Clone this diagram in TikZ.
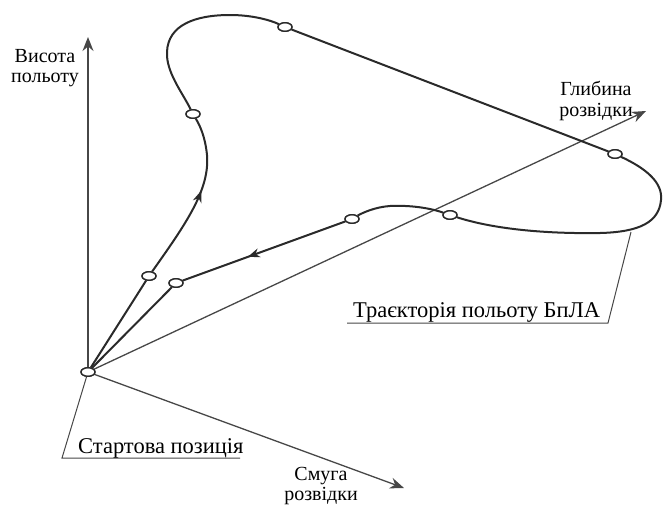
\documentclass[tikz,border=0pt]{standalone}
\usepackage{fontspec}
\setmainfont{Liberation Serif}
\usetikzlibrary{arrows.meta,shapes.geometric,decorations.markings}
\definecolor{axisgray}{HTML}{474747}
\definecolor{trajgray}{HTML}{2A2A2A}
\begin{document}
\begin{tikzpicture}[x=1pt,y=-1pt,
  axis/.style={draw=axisgray, line width=1.3pt, -{Stealth[length=14pt,width=11pt]}},
  traj/.style={draw=trajgray, line width=2pt},
  wp/.style={ellipse, draw=trajgray, line width=1.4pt, fill=white, minimum width=14pt, minimum height=8.5pt, inner sep=0pt},
  leader/.style={draw=axisgray, line width=1pt},
  axlabel/.style={font=\fontsize{20}{20.5}\selectfont, align=center, text=black, inner sep=0pt, anchor=north},
  lbl/.style={font=\fontsize{22.5}{24}\selectfont, text=black, inner sep=0pt, anchor=base west},
  midarrow/.style={postaction={decorate}, decoration={markings, mark=at position #1 with {\arrow{Stealth[length=12pt,width=9pt]}}}}
]
\useasboundingbox (0,0) rectangle (671,507);
% waypoints
\node[wp] (O)  at (88,372) {};
\node[wp] (E1) at (149,276) {};
\node[wp] (E7) at (176,283) {};
\node[wp] (E2) at (193,114) {};
\node[wp] (E3) at (285,27) {};
\node[wp] (E4) at (615,154) {};
\node[wp] (E5) at (450,215) {};
\node[wp] (E6) at (352,219) {};
% axis ends
\coordinate (VT) at (88,37);
\coordinate (DT) at (646,111);
\coordinate (ST) at (404,488);
% axes
\draw[axis] (O) -- (VT);
\draw[axis] (O) -- (DT);
\draw[axis] (O) -- (ST);
% trajectory
\draw[traj] (O) -- (E1);
\draw[traj, midarrow=0.56] (E1) .. controls (185,225) and (210,190) .. (207,155) .. controls (205,135) and (199,124) .. (E2);
\draw[traj] (E2) .. controls (182,92) and (166,72) .. (167,52) .. controls (168,25) and (195,15) .. (230,15) .. controls (252,15) and (270,20) .. (E3);
\draw[traj] (E3) -- (E4);
\draw[traj] (E4) .. controls (645,168) and (663,182) .. (661,200) .. controls (659,222) and (640,232) .. (600,233) .. controls (540,234) and (490,228) .. (E5);
\draw[traj] (E5) .. controls (430,208) and (410,205) .. (390,206) .. controls (375,207) and (362,213) .. (E6);
\draw[traj, midarrow=0.6] (E6) -- (E7);
\draw[traj] (E7) -- (O);
% redraw waypoint outlines on top
\foreach \n in {O,E1,E2,E3,E4,E5,E6,E7} \draw[trajgray, line width=1.4pt, fill=white] (\n.center) ellipse [x radius=7pt, y radius=4.25pt];
% labels
\node[axlabel] (LV) at (45,49) {Висота\\польоту};
\node[axlabel] (LD) at (596,81) {Глибина\\розвідки};
\node[axlabel] (LS) at (321,467) {Смуга\\розвідки};
% leaders
\coordinate (SL) at (62,458);
\coordinate (SR) at (240,458);
\draw[leader] (O) -- (SL) -- (SR);
\node[lbl] (TS) at (78,453) {Стартова позиція};
\coordinate (TA) at (631,232);
\coordinate (TB) at (608,323);
\coordinate (TC) at (347,323);
\draw[leader] (TA) -- (TB) -- (TC);
\node[lbl] (TT) at (353,317) {Траєкторія польоту БпЛА};
\end{tikzpicture}
\end{document}
